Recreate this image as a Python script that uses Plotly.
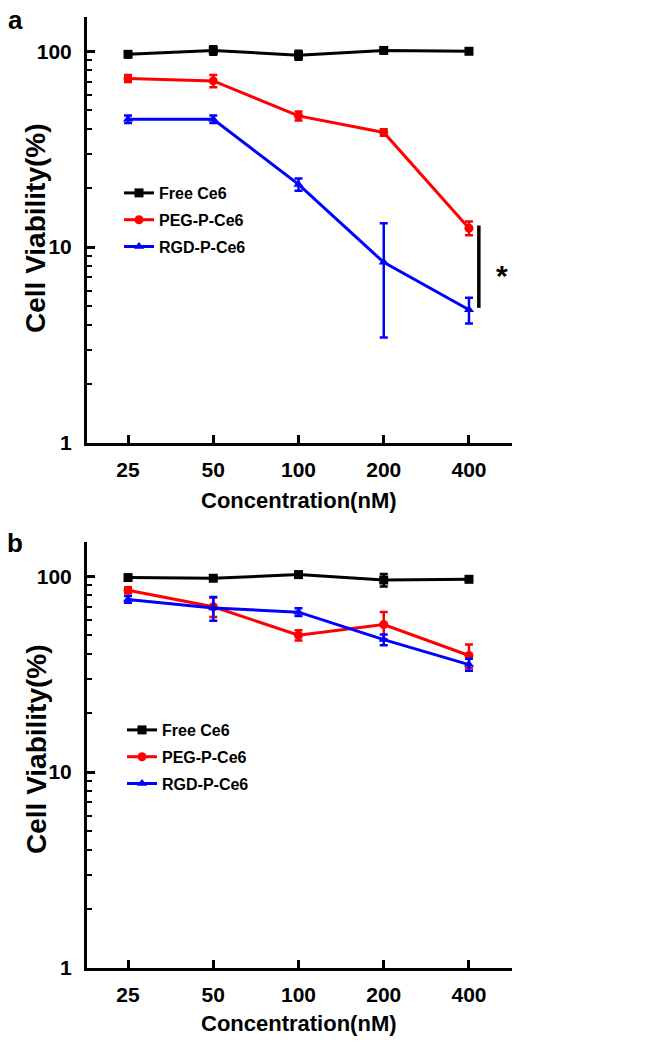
import math
import plotly.graph_objects as go

# ---------------- data ----------------
concentration = [25, 50, 100, 200, 400]
x_tick_labels = ["25", "50", "100", "200", "400"]
y_tick_vals = [1, 10, 100]
y_tick_labels = ["1", "10", "100"]
y_minor_vals = [2, 3, 4, 5, 6, 7, 8, 9, 20, 30, 40, 50, 60, 70, 80, 90]
series_names = ["Free Ce6", "PEG-P-Ce6", "RGD-P-Ce6"]
series_colors = ["#000000", "#FF0000", "#0000FF"]
series_symbols = ["square", "circle", "triangle-up"]

# panel a
a_free = [96.5, 101, 95.5, 101, 100]
a_free_err = [3, 5, 5, 3, 3]
a_peg = [72.6, 70.6, 46.8, 38.5, 12.5]
a_peg_err = [3, 5, 2.5, 1.5, 1.0]
a_rgd = [45, 45, 20.9, 8.36, 4.79]
a_rgd_err = [2, 2, 1.5, 4.9, 0.72]

# panel b
b_free = [98.5, 97.7, 102, 95.7, 96.5]
b_free_err = [2.5, 2.5, 3, 7, 2.5]
b_peg = [84.8, 69.9, 50.0, 56.7, 39.4]
b_peg_err = [3, 8, 3, 9, 5.5]
b_rgd = [76.2, 68.8, 65.6, 47.5, 35.4]
b_rgd_err = [3, 9.5, 3, 3, 2.5]

# significance bracket (panel a, at 400 nM) between PEG and RGD
sig_top = 12.9
sig_bottom = 4.9
sig_label_value = 7.2
sig_label = "*"

FONT = "Arial, 'Liberation Sans', sans-serif"

fig = go.Figure()

panels = [
    ("x", "y", "legend", [a_free, a_peg, a_rgd], [a_free_err, a_peg_err, a_rgd_err]),
    ("x2", "y2", "legend2", [b_free, b_peg, b_rgd], [b_free_err, b_peg_err, b_rgd_err]),
]
for xa, ya, leg, vals, errs in panels:
    for i in range(3):
        fig.add_trace(go.Scatter(
            x=concentration, y=vals[i], name=series_names[i],
            mode="lines+markers", xaxis=xa, yaxis=ya, legend=leg,
            legendgroup=leg + str(i),
            line=dict(color=series_colors[i], width=3),
            marker=dict(symbol=series_symbols[i], size=9, color=series_colors[i]),
            error_y=dict(type="data", array=errs[i], visible=True,
                         color=series_colors[i], thickness=2.5, width=4),
        ))

x_range = [1.253, 2.754]
y_range = [0, 2.175]

def xaxis_cfg(anchor, domain):
    return dict(type="log", range=x_range, domain=domain, anchor=anchor,
                tickvals=concentration, ticktext=x_tick_labels,
                ticks="inside", ticklen=8, tickwidth=2.5, tickcolor="black",
                showline=True, linewidth=3, linecolor="black", mirror=False,
                showgrid=False, zeroline=False, ticklabelstandoff=6, automargin=False,
                tickfont=dict(family=FONT, size=21, color="black", weight="bold"))

def yaxis_cfg(anchor, domain):
    return dict(type="log", range=y_range, domain=domain, anchor=anchor,
                tickvals=y_tick_vals, ticktext=y_tick_labels,
                ticks="inside", ticklen=8, tickwidth=2.5, tickcolor="black",
                minor=dict(tickvals=y_minor_vals, ticks="inside", ticklen=5,
                           tickwidth=2, tickcolor="black", showgrid=False),
                showline=True, linewidth=3, linecolor="black", mirror=False,
                showgrid=False, zeroline=False, ticklabelstandoff=8, automargin=False,
                tickfont=dict(family=FONT, size=21, color="black", weight="bold"))

W, H = 661, 1050
xdom = [87 / W, 512 / W]
ydom_a = [1 - 443 / H, 1 - 17 / H]
ydom_b = [1 - 968 / H, 1 - 542 / H]

legend_common = dict(font=dict(family=FONT, size=16, color="black", weight="bold"),
                     bgcolor="rgba(0,0,0,0)", borderwidth=0, tracegroupgap=3,
                     xanchor="left", yanchor="top", itemwidth=30)

fig.update_layout(
    width=W, height=H, margin=dict(l=0, r=0, t=0, b=0, autoexpand=False),
    paper_bgcolor="white", plot_bgcolor="white",
    xaxis=xaxis_cfg("y", xdom), yaxis=yaxis_cfg("x", ydom_a),
    xaxis2=xaxis_cfg("y2", xdom), yaxis2=yaxis_cfg("x2", ydom_b),
    legend=dict(x=119 / W, y=1 - 176 / H, **legend_common),
    legend2=dict(x=122 / W, y=1 - 713 / H, **legend_common),
    showlegend=True,
)

# significance bracket (shapes on log axes take data values)
fig.add_shape(type="line", xref="x domain", yref="y",
              x0=0.922, x1=0.922, y0=sig_top, y1=sig_bottom,
              line=dict(color="black", width=3.5))
fig.add_annotation(xref="x domain", yref="y", x=0.977, y=math.log10(sig_label_value),
                   text=sig_label, showarrow=False, xanchor="center", yanchor="middle",
                   font=dict(family=FONT, size=30, color="black", weight="bold"))

# axis titles and panel labels
title_font = dict(family=FONT, size=22, color="black", weight="bold")
for yc in [228, 749]:
    fig.add_annotation(xref="paper", yref="paper", x=36 / W, y=1 - yc / H,
                       text="Cell Viability(%)", textangle=-90, showarrow=False,
                       xanchor="center", yanchor="middle",
                       font=dict(family=FONT, size=28, color="black", weight="bold"))
for yc in [500, 1023]:
    fig.add_annotation(xref="paper", yref="paper", x=299 / W, y=1 - yc / H,
                       text="Concentration(nM)", showarrow=False,
                       xanchor="center", yanchor="middle", font=title_font)
for lab, yc in [("a", 20), ("b", 543)]:
    fig.add_annotation(xref="paper", yref="paper", x=15 / W, y=1 - yc / H,
                       text=lab, showarrow=False, xanchor="center", yanchor="middle",
                       font=dict(family=FONT, size=26, color="black", weight="bold"))

fig.write_html("out.html", config={"displayModeBar": False},
               post_script="document.body.style.margin='0';document.body.style.overflow='hidden';")
